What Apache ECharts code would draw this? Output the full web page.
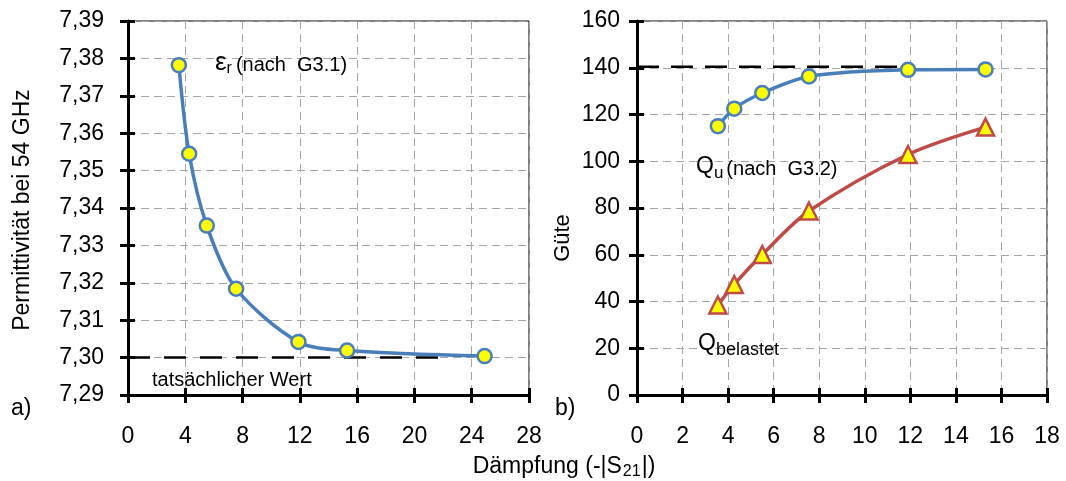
<!DOCTYPE html>
<html>
<head>
<meta charset="utf-8">
<script src="https://cdn.jsdelivr.net/npm/echarts@6/dist/echarts.min.js"></script>
<style>
  html, body { margin: 0; padding: 0; background: #fff; }
  #chart { width: 1066px; height: 481px; }
</style>
</head>
<body>
<div id="chart"></div>
<script>
// Attenuation values (-|S21|) of the measured resonator settings
const dampingEps = [3.55, 4.27, 5.5, 7.55, 11.9, 15.3, 24.9];
// Permittivity at 54 GHz computed with G3.1
const permittivity = [7.3782, 7.3545, 7.3353, 7.3184, 7.3042, 7.3019, 7.3004];
// Attenuation values for the quality factors
const dampingQ = [3.55, 4.27, 5.5, 7.55, 11.9, 15.3];
// Unloaded Q (G3.2) and loaded Q
const qUnloaded = [115.0, 122.5, 129.2, 136.3, 139.1, 139.3];
const qLoaded = [38.5, 47.3, 60.1, 78.7, 102.9, 114.6];
// Reference levels (actual permittivity, limit of unloaded Q) and their x extent
const epsActual = 7.30;
const epsActualRange = [0, 22];
const qLimit = 140.4;
const qLimitRange = [0, 11.9];

const FONT = "'Liberation Sans', Arial, sans-serif";
const BLUE = '#4a7ebb';
const RED = '#be4b48';
const YELLOW = '#ffff00';
const TICK_FONT = 23;
const GRIDLINE = { show: true, lineStyle: { color: '#a6a6a6', type: [8, 5], width: 1 } };

const pairs = (xs, ys) => xs.map((x, i) => [x, ys[i]]);
const flat = (range, y) => range.map(x => [x, y]);

const comma = (d) => (v) => v.toFixed(d).replace('.', ',');

function mainAxis(extra) {
  return Object.assign({
    type: 'value',
    axisLine: { show: true, onZero: false, lineStyle: { color: '#000', width: 3 } },
    axisTick: { show: true, inside: false, length: 8, lineStyle: { color: '#000', width: 3 } },
    splitLine: GRIDLINE
  }, extra);
}
// companion axis that only draws the inner half of each crossing tick
function innerTicks(extra) {
  return Object.assign({
    type: 'value',
    axisLine: { show: false, onZero: false },
    axisTick: { show: true, inside: true, length: 7, lineStyle: { color: '#000', width: 3 } },
    axisLabel: { show: false },
    splitLine: { show: false }
  }, extra);
}
function tickLabels(margin, formatter) {
  const s = { color: '#000', fontSize: TICK_FONT, fontFamily: FONT, margin: margin };
  if (formatter) s.formatter = formatter;
  return s;
}

// measure text so that sub-scripted pieces can be laid out side by side
const measureCtx = document.createElement('canvas').getContext('2d');
function textWidth(str, size) {
  measureCtx.font = size + 'px ' + FONT;
  return measureCtx.measureText(str).width;
}
function composite(x, y, parts) {
  const out = [];
  let cx = x;
  parts.forEach(p => {
    out.push({
      type: 'text', x: cx, y: y + (p.dy || 0), z: 10,
      style: { text: p.text, fill: '#000', font: p.size + 'px ' + FONT,
               textAlign: 'left', textVerticalAlign: 'middle' }
    });
    cx += textWidth(p.text, p.size) + (p.gap || 0);
  });
  return out;
}
function label(x, y, text, size, rot) {
  return {
    type: 'text', x: x, y: y, rotation: rot || 0, z: 10,
    style: { text: text, fill: '#000', font: size + 'px ' + FONT,
             textAlign: rot ? 'center' : 'left', textVerticalAlign: 'middle' }
  };
}

const xTitleParts = [
  { text: 'Dämpfung (-|S', size: 23, gap: 1 },
  { text: '21', size: 16, dy: 5, gap: 1 },
  { text: '|)', size: 23 }
];
const xTitleWidth = xTitleParts.reduce((s, p) => s + textWidth(p.text, p.size) + (p.gap || 0), 0);

const graphics = [].concat(
  composite(215, 63, [
    { text: 'ε', size: 26, gap: 0 },
    { text: 'r', size: 16, dy: 6, gap: 4 },
    { text: '(nach  G3.1)', size: 20, dy: 2 }
  ]),
  [label(152, 380, 'tatsächlicher Wert', 20)],
  composite(696, 167, [
    { text: 'Q', size: 23 },
    { text: 'u', size: 17, dy: 6, gap: 3 },
    { text: '(nach  G3.2)', size: 20, dy: 2 }
  ]),
  composite(698, 344, [
    { text: 'Q', size: 23 },
    { text: 'belastet', size: 18, dy: 6 }
  ]),
  [label(11, 409, 'a)', 23), label(555, 409, 'b)', 23)],
  [label(23, 210, 'Permittivität bei 54 GHz', 23, Math.PI / 2),
   label(563, 238, 'Güte', 22, Math.PI / 2)],
  composite(564 - xTitleWidth / 2, 467, xTitleParts)
);

const chart = echarts.init(document.getElementById('chart'), null, { renderer: 'canvas' });
chart.setOption({
  animation: false,
  backgroundColor: '#fff',
  grid: [
    { left: 128, right: 537, top: 21, bottom: 86, show: true, borderColor: '#000', borderWidth: 1 },
    { left: 637, right: 19, top: 21, bottom: 86, show: true, borderColor: '#000', borderWidth: 1 }
  ],
  xAxis: [
    mainAxis({ gridIndex: 0, min: 0, max: 28, interval: 4, position: 'bottom', axisLabel: tickLabels(30) }),
    mainAxis({ gridIndex: 1, min: 0, max: 18, interval: 2, position: 'bottom', axisLabel: tickLabels(30) }),
    innerTicks({ gridIndex: 0, min: 0, max: 28, interval: 4, position: 'bottom' }),
    innerTicks({ gridIndex: 1, min: 0, max: 18, interval: 2, position: 'bottom' })
  ],
  yAxis: [
    mainAxis({ gridIndex: 0, min: 7.29, max: 7.39, interval: 0.01, position: 'left',
               axisLabel: tickLabels(24, comma(2)) }),
    mainAxis({ gridIndex: 1, min: 0, max: 160, interval: 20, position: 'left',
               axisLabel: tickLabels(17) }),
    innerTicks({ gridIndex: 0, min: 7.29, max: 7.39, interval: 0.01, position: 'left' }),
    innerTicks({ gridIndex: 1, min: 0, max: 160, interval: 20, position: 'left' })
  ],
  series: [
    {
      name: 'tatsächlicher Wert', type: 'line', xAxisIndex: 0, yAxisIndex: 0,
      data: flat(epsActualRange, epsActual), symbol: 'none', silent: true,
      lineStyle: { color: '#000', width: 2.5, type: [22, 14] }, z: 2
    },
    {
      name: 'εr', type: 'line', xAxisIndex: 0, yAxisIndex: 0,
      data: pairs(dampingEps, permittivity), smooth: 0.3,
      lineStyle: { color: BLUE, width: 3.5 },
      symbol: 'circle', symbolSize: 14,
      itemStyle: { color: YELLOW, borderColor: BLUE, borderWidth: 2.5 }, z: 3
    },
    {
      name: 'Qu Grenze', type: 'line', xAxisIndex: 1, yAxisIndex: 1,
      data: flat(qLimitRange, qLimit), symbol: 'none', silent: true,
      lineStyle: { color: '#000', width: 2.5, type: [22, 12] }, z: 2
    },
    {
      name: 'Qu', type: 'line', xAxisIndex: 1, yAxisIndex: 1,
      data: pairs(dampingQ, qUnloaded), smooth: 0.3,
      lineStyle: { color: BLUE, width: 3.5 },
      symbol: 'circle', symbolSize: 14,
      itemStyle: { color: YELLOW, borderColor: BLUE, borderWidth: 2.5 }, z: 3
    },
    {
      name: 'Qbelastet', type: 'line', xAxisIndex: 1, yAxisIndex: 1,
      data: pairs(dampingQ, qLoaded), smooth: 0.3,
      lineStyle: { color: RED, width: 3.5 },
      symbol: 'triangle', symbolSize: 17,
      itemStyle: { color: YELLOW, borderColor: RED, borderWidth: 2.5 }, z: 3
    }
  ],
  graphic: graphics
});
</script>
</body>
</html>
